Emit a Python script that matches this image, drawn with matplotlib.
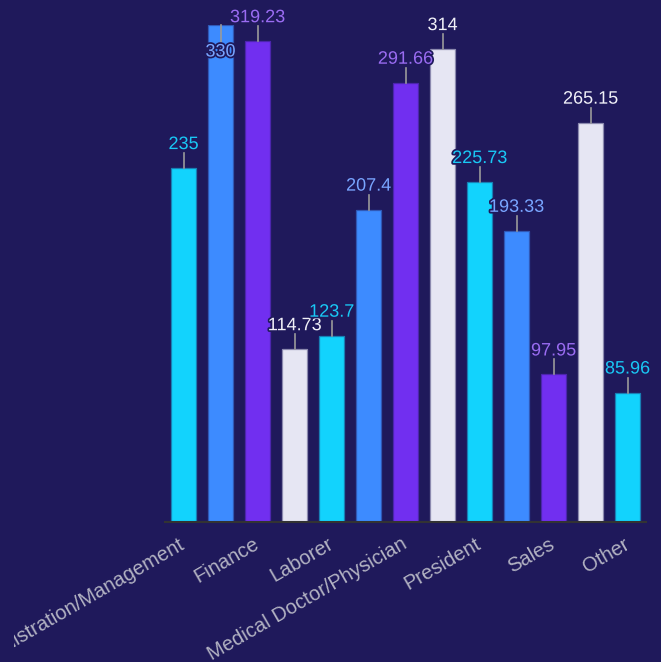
import matplotlib
matplotlib.use('Agg')
import numpy as np
import matplotlib.pyplot as plt
import matplotlib.patheffects as pe
from matplotlib.colors import to_rgb
from matplotlib.transforms import Bbox

# values per bar
values = [235, 330, 319.23, 114.73, 123.7, 207.4, 291.66, 314, 225.73, 193.33, 97.95, 265.15, 85.96]
# only every second category name is shown on the axis
tick_labels = ['Administration/Management', 'Finance', 'Laborer', 'Medical Doctor/Physician',
               'President', 'Sales', 'Other']

palette = ['#12d3fd', '#3d8bff', '#712ff0', '#e6e6f3']
label_colors = ['#19c8f5', '#79a5ff', '#9a6cf2', '#f0f0f8']
bg = '#1f195b'

plt.rcParams['font.family'] = ['Liberation Sans', 'DejaVu Sans']

fig = plt.figure(figsize=(6.61, 6.62), dpi=100, facecolor=bg)
ax = fig.add_axes([165 / 661, 140 / 662, 481 / 661, 497 / 662])
ax.set_facecolor(bg)

x = np.arange(len(values))
colors = [palette[i % 4] for i in x]
# thin darker border, the bar colour half blended into the background
edges = [tuple(0.55 * a + 0.45 * b for a, b in zip(to_rgb(c), to_rgb(bg))) for c in colors]
ax.bar(x, values, width=0.65, color=colors, edgecolor=edges, linewidth=0.9, zorder=2)

ax.set_xlim(-0.5, len(values) - 0.5)
ax.set_ylim(0, max(values))

px = max(values) / 497  # data units per pixel
outline = [pe.withStroke(linewidth=2.5, foreground=bg)]
for i, v in zip(x, values):
    if v == max(values):
        # no room above, label is pushed down inside the bar
        ax.plot([i, i], [v, v - 17 * px], color='#9a9a9a', lw=1.2, zorder=3, clip_on=False)
        ax.text(i, v - 27 * px, f'{v:g}', ha='center', va='center', fontsize=13,
                color=label_colors[i % 4], path_effects=outline, zorder=4)
    else:
        ax.plot([i, i], [v, v + 15 * px], color='#9a9a9a', lw=1.2, zorder=3, clip_on=False)
        ax.text(i, v + 15 * px, f'{v:g}', ha='center', va='bottom', fontsize=13,
                color=label_colors[i % 4], path_effects=outline, zorder=4, clip_on=False)

ax.set_xticks(x[::2])
ax.set_xticklabels(tick_labels, rotation=30, ha='right', va='center', rotation_mode='anchor',
                   fontsize=14.5, color='#b3b3c3')
ax.tick_params(axis='x', length=0, pad=15)
ax.set_yticks([])
for s in ['top', 'right', 'left']:
    ax.spines[s].set_visible(False)
ax.spines['bottom'].set_color('#333333')
ax.spines['bottom'].set_linewidth(1.5)

# the first label runs off the left edge in the original, cut near x=14px
clip = Bbox.from_extents(14, 0, 661, 662)
ax.get_xticklabels()[0].set_clip_box(clip)
ax.get_xticklabels()[0].set_clip_on(True)

fig.savefig('out.png', dpi=100, facecolor=bg)
